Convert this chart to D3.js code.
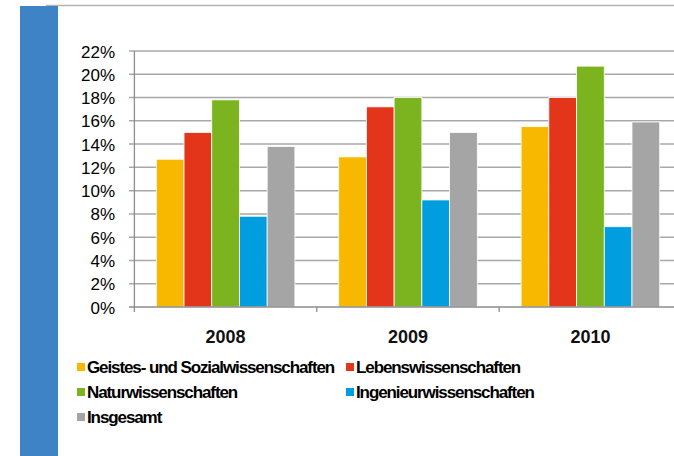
<!DOCTYPE html>
<html>
<head>
<meta charset="utf-8">
<script src="https://cdn.jsdelivr.net/npm/d3@7"></script>
<style>
  body { margin: 0; background: #fff; }
  svg { display: block; font-family: "Liberation Sans", Arial, sans-serif; }
</style>
</head>
<body>
<svg width="674" height="456"></svg>
<script>
var years = ["2008", "2009", "2010"];
var series = ["Geistes- und Sozialwissenschaften", "Lebenswissenschaften",
              "Naturwissenschaften", "Ingenieurwissenschaften", "Insgesamt"];
var colors = ["#f9b800", "#e3351a", "#7bb41f", "#009ddf", "#a5a5a5"];
// values in % per series, one per year
var geistes = [12.7, 12.9, 15.5];
var leben   = [15.0, 17.2, 18.0];
var natur   = [17.8, 18.0, 20.7];
var ingen   = [7.8, 9.2, 6.9];
var gesamt  = [13.8, 15.0, 15.9];
var yTicks = [0, 2, 4, 6, 8, 10, 12, 14, 16, 18, 20, 22];

var values = [geistes, leben, natur, ingen, gesamt];

var svg = d3.select("svg");

// frame line + blue strip on the left
svg.append("line")
    .attr("x1", 46).attr("x2", 674)
    .attr("y1", 5.5).attr("y2", 5.5)
    .attr("stroke", "#b4b4b4").attr("stroke-width", 1.5);

svg.append("rect")
    .attr("x", 20).attr("y", 6)
    .attr("width", 38).attr("height", 450)
    .attr("fill", "#3d83c5");

var x0 = d3.scaleBand()
    .domain(years)
    .range([134.4, 134.4 + 3 * 182.4]);

var x1 = d3.scaleBand()
    .domain(series)
    .range([0, x0.bandwidth()])
    .paddingOuter(0.79);

var y = d3.scaleLinear()
    .domain([0, 22])
    .range([307, 51]);

// gridlines with small ticks left of the axis
svg.append("g")
    .selectAll("line")
    .data(yTicks.slice(1))
    .enter().append("line")
    .attr("x1", 129).attr("x2", 674)
    .attr("y1", function (d) { return y(d); })
    .attr("y2", function (d) { return y(d); })
    .attr("stroke", "#a8a8a8")
    .attr("stroke-width", 1.5);

svg.append("g")
    .selectAll("text")
    .data(yTicks)
    .enter().append("text")
    .attr("x", 115)
    .attr("y", function (d) { return y(d) + 6.5; })
    .attr("text-anchor", "end")
    .style("font-size", "17px")
    .attr("fill", "#000")
    .text(function (d) { return d + "%"; });

// bars
var groups = svg.append("g")
    .selectAll("g")
    .data(years)
    .enter().append("g")
    .attr("transform", function (d) { return "translate(" + x0(d) + ",0)"; });

groups.selectAll("rect")
    .data(function (yr, i) {
        return series.map(function (s, j) { return { s: s, v: values[j][i], c: colors[j] }; });
    })
    .enter().append("rect")
    .attr("x", function (d) { return x1(d.s); })
    .attr("y", function (d) { return y(d.v); })
    .attr("width", x1.bandwidth())
    .attr("height", function (d) { return y(0) - y(d.v); })
    .attr("fill", function (d) { return d.c; })
    .attr("stroke", "#fff")
    .attr("stroke-width", 0.8);

// axes lines
svg.append("line")
    .attr("x1", 134.4).attr("x2", 134.4)
    .attr("y1", y(22)).attr("y2", 312)
    .attr("stroke", "#8c8c8c").attr("stroke-width", 1.3);

svg.append("line")
    .attr("x1", 129).attr("x2", 674)
    .attr("y1", y(0)).attr("y2", y(0))
    .attr("stroke", "#8c8c8c").attr("stroke-width", 1.5);

svg.append("g")
    .selectAll("line")
    .data(years.slice(1))
    .enter().append("line")
    .attr("x1", function (d) { return x0(d); })
    .attr("x2", function (d) { return x0(d); })
    .attr("y1", y(0)).attr("y2", 312)
    .attr("stroke", "#8c8c8c").attr("stroke-width", 1.3);

// year labels
svg.append("g")
    .selectAll("text")
    .data(years)
    .enter().append("text")
    .attr("x", function (d) { return x0(d) + x0.bandwidth() / 2; })
    .attr("y", 343)
    .attr("text-anchor", "middle")
    .style("font-size", "18px")
    .style("font-weight", "bold")
    .attr("fill", "#111")
    .text(function (d) { return d; });

// legend
var legend = svg.append("g")
    .selectAll("g")
    .data(series)
    .enter().append("g")
    .attr("transform", function (d, i) {
        var col = i % 2, row = Math.floor(i / 2);
        return "translate(" + (col ? 346 : 77) + "," + (373 + row * 25) + ")";
    });

legend.append("rect")
    .attr("x", 0).attr("y", -10)
    .attr("width", 8).attr("height", 8)
    .attr("fill", function (d, i) { return colors[i]; });

legend.append("text")
    .attr("x", 10)
    .attr("y", 0)
    .style("font-size", "17px")
    .style("font-weight", "bold")
    .style("letter-spacing", "-1.1px")
    .attr("fill", "#000")
    .text(function (d) { return d; });
</script>
</body>
</html>
